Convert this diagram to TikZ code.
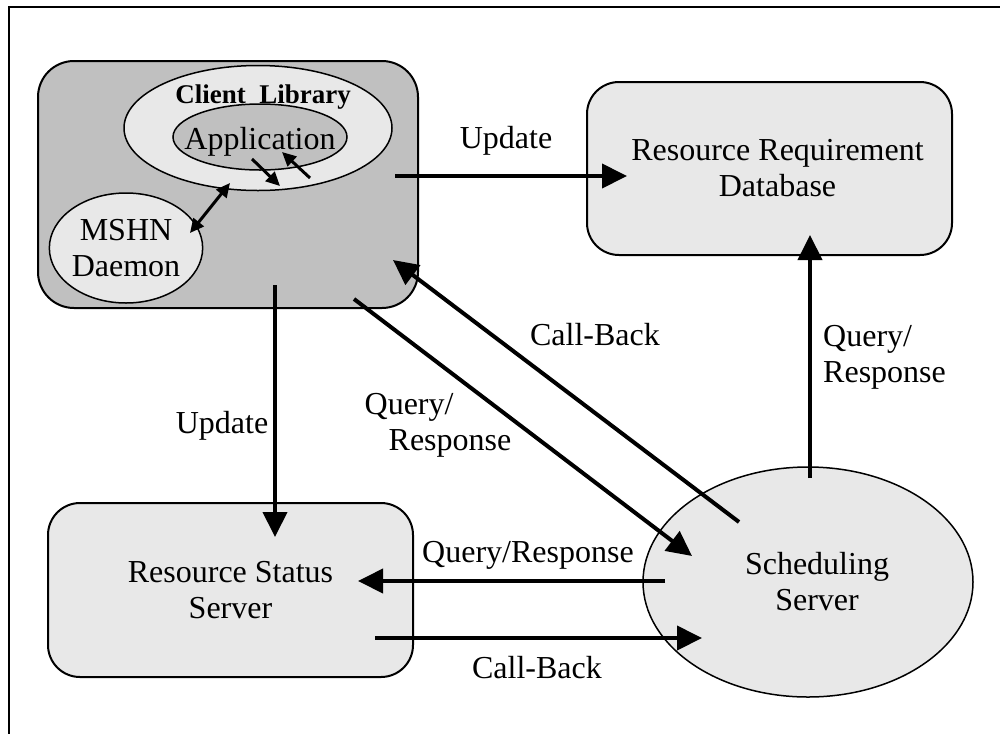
\documentclass[tikz,border=0pt]{standalone}
\usepackage{fontspec}
\setmainfont{Liberation Serif}
\usetikzlibrary{arrows.meta, shapes.geometric, positioning}
\definecolor{darkfill}{HTML}{C0C0C0}
\definecolor{lightfill}{HTML}{E8E8E8}
\tikzset{
  box/.style={draw, line width=2pt, rounded corners=32pt, fill=lightfill, align=center, inner sep=0},
  oval/.style={draw, line width=1.5pt, ellipse, fill=lightfill, align=center, inner sep=0},
  flow/.style={line width=4pt, -{Triangle[length=25pt,width=24pt]}},
  small/.style={line width=3pt, -{Triangle[length=14pt,width=13pt]}},
  lbl/.style={inner sep=0, align=left},
}
\begin{document}
\begin{tikzpicture}[x=1pt, y=-1pt, font=\fontsize{32}{36}\selectfont]
\useasboundingbox (0,0) rectangle (1000,734);

% frame
\draw [line width=2pt] (1000,7) -- (9,7) -- (9,734);

% client host
\node (client) [box, fill=darkfill, rounded corners=36pt, minimum width=380pt, minimum height=247pt] at (228,184.5) {};
\node (lib) [oval, minimum width=268pt, minimum height=125pt] at (258,128) {};
\node (libtext) [inner sep=0, font=\fontsize{27}{30}\selectfont\bfseries] at (263,97) {Client\ \ Library};
\node (app) [oval, fill=darkfill, minimum width=174pt, minimum height=66pt] at (260,137) {};
\node (apptext) [inner sep=0] at (260,142) {Application};
\node (mshn) [oval, minimum width=146pt, minimum height=110pt] at (126,248) {MSHN\\Daemon};

% servers
\node (rrd) [box, minimum width=365pt, minimum height=173pt] at (769.5,168.5) {\hspace*{16pt}Resource Requirement\\\hspace*{16pt}Database};
\node (rss) [box, minimum width=365pt, minimum height=174pt] at (230.5,590) {Resource Status\\Server};
\node (sched) [oval, minimum width=330pt, minimum height=230pt] at (808,582) {\hspace*{18pt}Scheduling\\\hspace*{18pt}Server};

% arrow ends
\coordinate (updA) at (395,176);   \coordinate (updB) at (627,176);
\coordinate (updC) at (275,285);   \coordinate (updD) at (275,537);
\coordinate (cbA) at (739,522);    \coordinate (cbB) at (393,260);
\coordinate (qrA) at (354,299);    \coordinate (qrB) at (692,556);
\coordinate (qvA) at (810,478);    \coordinate (qvB) at (810,235);
\coordinate (qhA) at (665,581);    \coordinate (qhB) at (358,581);
\coordinate (cbC) at (375,638);    \coordinate (cbD) at (702,638);
\coordinate (inA) at (252,159);    \coordinate (inB) at (280,186);
\coordinate (outA) at (310,178);   \coordinate (outB) at (282,152);
\coordinate (dmA) at (190,233);    \coordinate (dmB) at (230,183);

% connectors
\draw [flow] (updA) -- (updB);
\draw [flow] (updC) -- (updD);
\draw [flow] (cbA) -- (cbB);
\draw [flow] (qrA) -- (qrB);
\draw [flow] (qvA) -- (qvB);
\draw [flow] (qhA) -- (qhB);
\draw [flow] (cbC) -- (cbD);
\draw [small] (inA) -- (inB);
\draw [small] (outA) -- (outB);
\draw [small, {Triangle[length=14pt,width=13pt]}-{Triangle[length=14pt,width=13pt]}] (dmA) -- (dmB);

% labels
\node (updlbl) [lbl] at (506,141) {Update};
\node (updlbl2) [lbl] at (222,426) {Update};
\node (cblbl) [lbl] at (595,335) {Call-Back};
\node (qrlbl) [lbl] at (438,425) {Query/\\\hspace*{24pt}Response};
\node (qvlbl) [lbl, anchor=west] at (823,357) {Query/\\Response};
\node (qhlbl) [lbl] at (528,555) {Query/Response};
\node (cblbl2) [lbl] at (537,668) {Call-Back};

\end{tikzpicture}
\end{document}
